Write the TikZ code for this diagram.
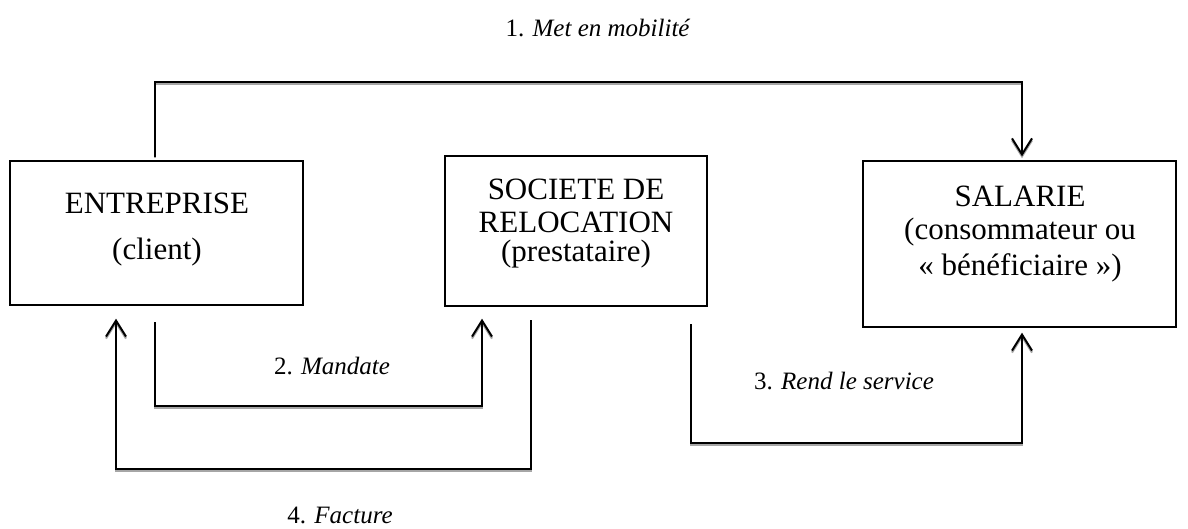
\documentclass[tikz,border=0pt]{standalone}
\usepackage{fontspec}
\setmainfont{Liberation Serif}
\usetikzlibrary{arrows.meta,calc}
\begin{document}
\begin{tikzpicture}[x=1pt,y=-1pt,
  box/.style={draw=black,line width=1.4pt,rectangle,inner sep=0pt},
  boxtext/.style={font=\fontsize{31}{35}\selectfont,inner sep=0pt,align=center},
  lab/.style={font=\fontsize{25}{29}\selectfont,inner sep=0pt},
  conn/.style={line width=2pt,black,line cap=rect,
    arrows={-Straight Barb[length=16pt,width=20pt,line width=2pt]},
    preaction={draw=black!35,line width=2pt,transform canvas={yshift=-2pt},
      arrows={-Straight Barb[length=16pt,width=20pt,line width=2pt]}}}]
\useasboundingbox (0,0) rectangle (1188,529);
% boxes
\node[box,minimum width=293pt,minimum height=144pt] (ent) at (156.5,233) {};
\node[box,minimum width=262pt,minimum height=150pt] (soc) at (576,231) {};
\node[box,minimum width=313pt,minimum height=166pt] (sal) at (1019.5,244) {};
% box texts
\node[boxtext] (entA) at (157,203) {ENTREPRISE};
\node[boxtext] (entB) at (157,252) {(client)};
\node[boxtext] (socA) at (576,189) {SOCIETE DE};
\node[boxtext] (socB) at (576,222) {RELOCATION};
\node[boxtext] (socC) at (576,254) {(prestataire)};
\node[boxtext] (salA) at (1020,196) {SALARIE};
\node[boxtext] (salB) at (1020,232) {(consommateur ou};
\node[boxtext] (salC) at (1020,268) {« bénéficiaire »)};
% labels
\node[lab] (l1) at (598,28) {1. \textit{Met en mobilité}};
\node[lab] (l2) at (332,366) {2. \textit{Mandate}};
\node[lab] (l3) at (844,381) {3. \textit{Rend le service}};
\node[lab] (l4) at (340,515) {4. \textit{Facture}};
% connector 1
\coordinate (a1s) at ([xshift=-1.5pt,yshift=4pt]ent.north);
\coordinate (a1e) at (1022,82);
\draw[conn] (a1s) |- (a1e) -- ([yshift=4pt]a1e |- sal.north);
% connector 2
\coordinate (a2s) at ([xshift=-1.5pt,yshift=-17pt]ent.south);
\coordinate (a2e) at (482,406);
\draw[conn] (a2s) |- (a2e) -- ([yshift=-12pt]a2e |- soc.south);
% connector 4
\coordinate (a4s) at (531,321);
\coordinate (a4e) at (116,469);
\draw[conn] (a4s) |- (a4e) -- ([yshift=-13pt]a4e |- ent.south);
% connector 3
\coordinate (a3s) at (691,325);
\coordinate (a3e) at (1022,443);
\draw[conn] (a3s) |- (a3e) -- ([yshift=-5pt]a3e |- sal.south);
\end{tikzpicture}
\end{document}
